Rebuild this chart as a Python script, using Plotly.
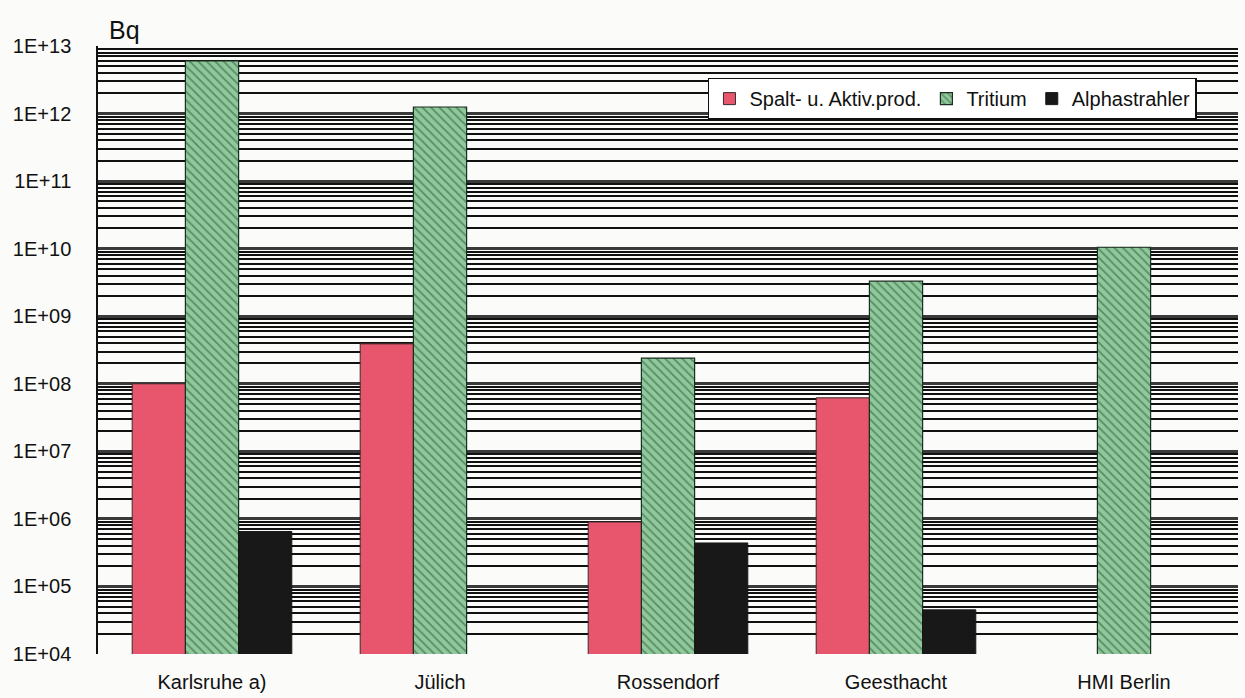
import plotly.graph_objects as go

categories = ["Karlsruhe a)", "Jülich", "Rossendorf", "Geesthacht", "HMI Berlin"]
spalt = [1.0e8, 3.9e8, 9.0e5, 6.2e7, None]
tritium = [6.0e12, 1.25e12, 2.4e8, 3.3e9, 1.05e10]
alpha = [6.5e5, None, 4.4e5, 4.5e4, None]
tick_vals = [1e4, 1e5, 1e6, 1e7, 1e8, 1e9, 1e10, 1e11, 1e12, 1e13]
tick_text = ["1E+04", "1E+05", "1E+06", "1E+07", "1E+08", "1E+09", "1E+10", "1E+11", "1E+12", "1E+13"]

fig = go.Figure()
fig.add_trace(go.Bar(x=categories, y=spalt, name="Spalt- u. Aktiv.prod.",
                     marker=dict(color="#e8566e", line=dict(color="#3a2a2a", width=1))))
fig.add_trace(go.Bar(x=categories, y=tritium, name="Tritium",
                     marker=dict(color="#8ec99b", line=dict(color="#1c2e20", width=1.2),
                                 pattern=dict(shape="\\", fgcolor="#2a4a30", bgcolor="#8ec99b",
                                              size=6, solidity=0.3))))
fig.add_trace(go.Bar(x=categories, y=alpha, name="Alphastrahler",
                     marker=dict(color="#181818", line=dict(color="#181818", width=1))))

fig.update_layout(
    width=1245, height=698,
    margin=dict(l=98, r=7, t=46, b=44),
    paper_bgcolor="#fbfbf9", plot_bgcolor="#fbfbf9",
    barmode="group", bargap=0.30, bargroupgap=0,
    font=dict(family="Liberation Sans, Arial, sans-serif", size=15, color="#111"),
    showlegend=True,
    legend=dict(orientation="h", x=0.964, xanchor="right", y=0.948, yanchor="top",
                bgcolor="white", bordercolor="#111", borderwidth=1.5,
                font=dict(size=20, color="#111"), itemwidth=30, tracegroupgap=0),
    xaxis=dict(showgrid=False, ticks="", ticklabelstandoff=14, automargin=False,
               tickfont=dict(size=20, color="#111"), showline=False, zeroline=False),
    yaxis=dict(type="log", range=[4, 13], tickvals=tick_vals, ticktext=tick_text,
               tickfont=dict(size=20, color="#111"), ticks="", ticklabelstandoff=21,
               automargin=False,
               showgrid=True, gridcolor="#3a3a3a", gridwidth=3,
               minor=dict(showgrid=True, gridcolor="#111", gridwidth=1.5,
                          dtick="D1"),
               zeroline=False, showline=True, linecolor="#111", linewidth=1.5),
    annotations=[dict(text="Bq", x=0.008, y=1.0, xref="paper", yref="paper",
                      xanchor="left", yanchor="bottom", showarrow=False,
                      font=dict(size=25, color="#111"))],
)

fig.write_html("out.html")
